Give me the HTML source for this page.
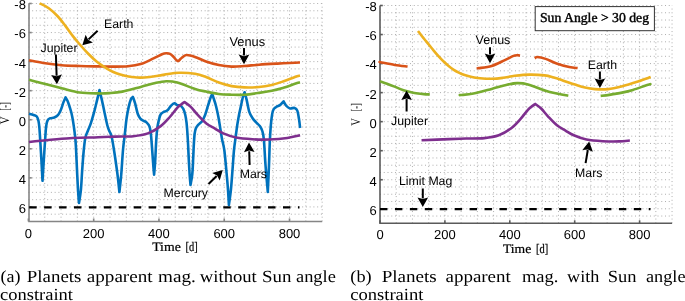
<!DOCTYPE html><html><head><meta charset="utf-8"><style>html,body{margin:0;padding:0;background:#fff;}svg{display:block;will-change:transform;text-rendering:geometricPrecision;}</style></head><body>
<svg width="685" height="301" viewBox="0 0 685 301">
<rect width="685" height="301" fill="#fff"/>
<g stroke="#a0a0a0" stroke-width="0.85" stroke-dasharray="1 2.75" fill="none">
<line x1="44.72" y1="221.45" x2="44.72" y2="3.50"/>
<line x1="61.04" y1="221.45" x2="61.04" y2="3.50"/>
<line x1="77.36" y1="221.45" x2="77.36" y2="3.50"/>
<line x1="93.68" y1="221.45" x2="93.68" y2="3.50"/>
<line x1="110.00" y1="221.45" x2="110.00" y2="3.50"/>
<line x1="126.32" y1="221.45" x2="126.32" y2="3.50"/>
<line x1="142.64" y1="221.45" x2="142.64" y2="3.50"/>
<line x1="158.96" y1="221.45" x2="158.96" y2="3.50"/>
<line x1="175.28" y1="221.45" x2="175.28" y2="3.50"/>
<line x1="191.60" y1="221.45" x2="191.60" y2="3.50"/>
<line x1="207.92" y1="221.45" x2="207.92" y2="3.50"/>
<line x1="224.24" y1="221.45" x2="224.24" y2="3.50"/>
<line x1="240.56" y1="221.45" x2="240.56" y2="3.50"/>
<line x1="256.88" y1="221.45" x2="256.88" y2="3.50"/>
<line x1="273.20" y1="221.45" x2="273.20" y2="3.50"/>
<line x1="289.52" y1="221.45" x2="289.52" y2="3.50"/>
<line x1="305.84" y1="221.45" x2="305.84" y2="3.50"/>
<line x1="322.16" y1="221.45" x2="322.16" y2="3.50"/>
<line x1="28.40" y1="3.50" x2="322.16" y2="3.50"/>
<line x1="28.40" y1="10.77" x2="322.16" y2="10.77"/>
<line x1="28.40" y1="18.03" x2="322.16" y2="18.03"/>
<line x1="28.40" y1="25.29" x2="322.16" y2="25.29"/>
<line x1="28.40" y1="32.56" x2="322.16" y2="32.56"/>
<line x1="28.40" y1="39.82" x2="322.16" y2="39.82"/>
<line x1="28.40" y1="47.09" x2="322.16" y2="47.09"/>
<line x1="28.40" y1="54.35" x2="322.16" y2="54.35"/>
<line x1="28.40" y1="61.62" x2="322.16" y2="61.62"/>
<line x1="28.40" y1="68.88" x2="322.16" y2="68.88"/>
<line x1="28.40" y1="76.15" x2="322.16" y2="76.15"/>
<line x1="28.40" y1="83.41" x2="322.16" y2="83.41"/>
<line x1="28.40" y1="90.68" x2="322.16" y2="90.68"/>
<line x1="28.40" y1="97.94" x2="322.16" y2="97.94"/>
<line x1="28.40" y1="105.21" x2="322.16" y2="105.21"/>
<line x1="28.40" y1="112.47" x2="322.16" y2="112.47"/>
<line x1="28.40" y1="119.74" x2="322.16" y2="119.74"/>
<line x1="28.40" y1="127.00" x2="322.16" y2="127.00"/>
<line x1="28.40" y1="134.27" x2="322.16" y2="134.27"/>
<line x1="28.40" y1="141.53" x2="322.16" y2="141.53"/>
<line x1="28.40" y1="148.80" x2="322.16" y2="148.80"/>
<line x1="28.40" y1="156.06" x2="322.16" y2="156.06"/>
<line x1="28.40" y1="163.33" x2="322.16" y2="163.33"/>
<line x1="28.40" y1="170.59" x2="322.16" y2="170.59"/>
<line x1="28.40" y1="177.86" x2="322.16" y2="177.86"/>
<line x1="28.40" y1="185.12" x2="322.16" y2="185.12"/>
<line x1="28.40" y1="192.39" x2="322.16" y2="192.39"/>
<line x1="28.40" y1="199.66" x2="322.16" y2="199.66"/>
<line x1="28.40" y1="206.92" x2="322.16" y2="206.92"/>
<line x1="28.40" y1="214.19" x2="322.16" y2="214.19"/>
</g>
<g stroke="#858585" stroke-width="1.6" fill="none">
<path d="M29.00 3.50 L29.00 221.45 L322.16 221.45"/>
<line x1="29.00" y1="3.50" x2="31.80" y2="3.50"/>
<line x1="29.00" y1="32.56" x2="31.80" y2="32.56"/>
<line x1="29.00" y1="61.62" x2="31.80" y2="61.62"/>
<line x1="29.00" y1="90.68" x2="31.80" y2="90.68"/>
<line x1="29.00" y1="119.74" x2="31.80" y2="119.74"/>
<line x1="29.00" y1="148.80" x2="31.80" y2="148.80"/>
<line x1="29.00" y1="177.86" x2="31.80" y2="177.86"/>
<line x1="29.00" y1="206.92" x2="31.80" y2="206.92"/>
<line x1="28.40" y1="221.45" x2="28.40" y2="218.45"/>
<line x1="93.68" y1="221.45" x2="93.68" y2="218.45"/>
<line x1="158.96" y1="221.45" x2="158.96" y2="218.45"/>
<line x1="224.24" y1="221.45" x2="224.24" y2="218.45"/>
<line x1="289.52" y1="221.45" x2="289.52" y2="218.45"/>
</g>
<g font-family="'Liberation Sans', sans-serif" font-size="13" fill="#000">
<text x="25.90" y="9.40" text-anchor="end">-8</text>
<text x="25.90" y="38.46" text-anchor="end">-6</text>
<text x="25.90" y="67.52" text-anchor="end">-4</text>
<text x="25.90" y="96.58" text-anchor="end">-2</text>
<text x="25.90" y="125.64" text-anchor="end">0</text>
<text x="25.90" y="154.70" text-anchor="end">2</text>
<text x="25.90" y="183.76" text-anchor="end">4</text>
<text x="25.90" y="212.82" text-anchor="end">6</text>
<text x="28.40" y="237.60" text-anchor="middle">0</text>
<text x="93.68" y="237.60" text-anchor="middle">200</text>
<text x="158.96" y="237.60" text-anchor="middle">400</text>
<text x="224.24" y="237.60" text-anchor="middle">600</text>
<text x="289.52" y="237.60" text-anchor="middle">800</text>
</g>
<line x1="29.20" y1="207.32" x2="299.46" y2="207.32" stroke="#000" stroke-width="2.2" stroke-dasharray="7.46 7.47"/>
<path d="M29.00 113.80 C29.75 114.00 32.20 114.55 33.50 115.00 C34.80 115.45 35.97 115.50 36.80 116.50 C37.63 117.50 38.07 119.08 38.50 121.00 C38.93 122.92 39.12 124.83 39.40 128.00 C39.68 131.17 39.87 134.67 40.20 140.00 C40.53 145.33 41.02 153.20 41.40 160.00 C41.78 166.80 42.32 177.33 42.50 180.80 C42.72 177.33 43.37 166.80 43.80 160.00 C44.23 153.20 44.70 145.67 45.10 140.00 C45.50 134.33 45.78 129.28 46.20 126.00 C46.62 122.72 46.93 121.58 47.60 120.30 C48.27 119.02 49.08 118.77 50.20 118.30 C51.32 117.83 53.02 118.02 54.30 117.50 C55.58 116.98 56.85 116.35 57.90 115.20 C58.95 114.05 59.68 112.73 60.60 110.60 C61.52 108.47 62.57 104.60 63.40 102.40 C64.23 100.20 65.23 98.23 65.60 97.40 C65.93 98.00 66.95 99.48 67.60 101.00 C68.25 102.52 68.85 104.45 69.50 106.50 C70.15 108.55 70.90 110.78 71.50 113.30 C72.10 115.82 72.63 118.82 73.10 121.60 C73.57 124.38 73.93 127.23 74.30 130.00 C74.67 132.77 75.02 135.17 75.30 138.20 C75.58 141.23 75.72 142.90 76.00 148.20 C76.28 153.50 76.67 163.03 77.00 170.00 C77.33 176.97 77.67 184.50 78.00 190.00 C78.33 195.50 78.83 200.83 79.00 203.00 C79.32 200.83 80.37 195.50 80.90 190.00 C81.43 184.50 81.75 176.33 82.20 170.00 C82.65 163.67 83.08 157.33 83.60 152.00 C84.12 146.67 84.57 141.58 85.30 138.00 C86.03 134.42 87.08 132.93 88.00 130.50 C88.92 128.07 89.72 126.72 90.80 123.40 C91.88 120.08 93.43 114.57 94.50 110.60 C95.57 106.63 96.37 103.03 97.20 99.60 C98.03 96.17 99.12 91.60 99.50 90.00 C99.88 91.60 100.97 95.87 101.80 99.60 C102.63 103.33 103.58 108.13 104.50 112.40 C105.42 116.67 106.50 122.10 107.30 125.20 C108.10 128.30 108.60 129.20 109.30 131.00 C110.00 132.80 110.80 133.33 111.50 136.00 C112.20 138.67 112.83 143.00 113.50 147.00 C114.17 151.00 114.78 155.00 115.50 160.00 C116.22 165.00 117.15 171.67 117.80 177.00 C118.45 182.33 119.13 189.50 119.40 192.00 C119.70 189.17 120.60 182.00 121.20 175.00 C121.80 168.00 122.37 157.08 123.00 150.00 C123.63 142.92 124.42 137.67 125.00 132.50 C125.58 127.33 125.88 123.27 126.50 119.00 C127.12 114.73 127.93 110.28 128.70 106.90 C129.47 103.52 130.40 100.37 131.10 98.70 C131.80 97.03 132.60 97.20 132.90 96.90 C133.27 97.97 134.27 100.40 135.10 103.30 C135.93 106.20 136.98 111.72 137.90 114.30 C138.82 116.88 139.67 117.72 140.60 118.80 C141.53 119.88 142.52 120.20 143.50 120.80 C144.48 121.40 145.50 121.45 146.50 122.40 C147.50 123.35 148.75 124.40 149.50 126.50 C150.25 128.60 150.53 130.80 151.00 135.00 C151.47 139.20 151.90 146.40 152.30 151.70 C152.70 157.00 153.10 162.98 153.40 166.80 C153.70 170.62 153.98 173.30 154.10 174.60 C154.27 172.58 154.75 168.10 155.10 162.50 C155.45 156.90 155.83 146.75 156.20 141.00 C156.57 135.25 156.83 131.58 157.30 128.00 C157.77 124.42 158.45 121.75 159.00 119.50 C159.55 117.25 159.87 115.73 160.60 114.50 C161.33 113.27 162.32 112.75 163.40 112.10 C164.48 111.45 165.87 111.62 167.10 110.60 C168.33 109.58 169.58 107.22 170.80 106.00 C172.02 104.78 173.33 103.45 174.40 103.30 C175.47 103.15 176.23 104.73 177.20 105.10 C178.17 105.47 179.18 104.88 180.20 105.50 C181.22 106.12 182.45 107.22 183.30 108.80 C184.15 110.38 184.77 112.73 185.30 115.00 C185.83 117.27 186.15 119.40 186.50 122.40 C186.85 125.40 187.13 129.23 187.40 133.00 C187.67 136.77 187.87 140.50 188.10 145.00 C188.33 149.50 188.55 155.17 188.80 160.00 C189.05 164.83 189.32 169.83 189.60 174.00 C189.88 178.17 190.35 183.17 190.50 185.00 C190.80 183.17 191.85 178.50 192.30 174.00 C192.75 169.50 192.95 162.83 193.20 158.00 C193.45 153.17 193.57 149.00 193.80 145.00 C194.03 141.00 194.27 136.77 194.60 134.00 C194.93 131.23 195.17 129.95 195.80 128.40 C196.43 126.85 197.33 125.95 198.40 124.70 C199.47 123.45 201.08 122.52 202.20 120.90 C203.32 119.28 204.25 117.15 205.10 115.00 C205.95 112.85 206.60 110.25 207.30 108.00 C208.00 105.75 208.68 103.42 209.30 101.50 C209.92 99.58 210.50 97.73 211.00 96.50 C211.50 95.27 212.08 94.50 212.30 94.10 C212.62 95.08 213.58 98.02 214.20 100.00 C214.82 101.98 215.30 103.18 216.00 106.00 C216.70 108.82 217.70 113.25 218.40 116.90 C219.10 120.55 219.60 124.23 220.20 127.90 C220.80 131.57 221.32 135.22 222.00 138.90 C222.68 142.58 223.58 144.82 224.30 150.00 C225.02 155.18 225.68 163.37 226.30 170.00 C226.92 176.63 227.57 183.97 228.00 189.80 C228.43 195.63 228.75 202.47 228.90 205.00 C229.23 202.47 230.30 195.63 230.90 189.80 C231.50 183.97 231.98 176.63 232.50 170.00 C233.02 163.37 233.45 155.67 234.00 150.00 C234.55 144.33 235.25 140.20 235.80 136.00 C236.35 131.80 236.77 128.30 237.30 124.80 C237.83 121.30 238.45 117.87 239.00 115.00 C239.55 112.13 239.95 110.60 240.60 107.60 C241.25 104.60 242.23 99.55 242.90 97.00 C243.57 94.45 244.32 93.08 244.60 92.30 C244.93 93.52 245.83 96.38 246.60 99.60 C247.37 102.82 248.20 108.50 249.20 111.60 C250.20 114.70 251.37 116.33 252.60 118.20 C253.83 120.07 255.40 121.48 256.60 122.80 C257.80 124.12 258.85 124.73 259.80 126.10 C260.75 127.47 261.62 128.72 262.30 131.00 C262.98 133.28 263.37 134.13 263.90 139.80 C264.43 145.47 264.85 156.32 265.50 165.00 C266.15 173.68 267.42 187.42 267.80 191.90 C268.00 187.42 268.65 173.68 269.00 165.00 C269.35 156.32 269.53 147.03 269.90 139.80 C270.27 132.57 270.68 126.47 271.20 121.60 C271.72 116.73 272.15 113.05 273.00 110.60 C273.85 108.15 275.13 107.82 276.30 106.90 C277.47 105.98 278.78 106.03 280.00 105.10 C281.22 104.17 283.00 101.93 283.60 101.30 C284.07 102.08 285.33 104.82 286.40 106.00 C287.47 107.18 288.63 108.08 290.00 108.40 C291.37 108.72 293.38 107.53 294.60 107.90 C295.82 108.27 296.55 108.63 297.30 110.60 C298.05 112.57 298.63 116.80 299.10 119.70 C299.57 122.60 299.93 126.62 300.10 128.00" fill="none" stroke="#0072BD" stroke-width="2.60" stroke-linejoin="round" stroke-linecap="butt"/>
<path d="M29.00 60.30 C31.38 60.75 37.87 62.18 43.30 63.00 C48.73 63.82 55.52 64.70 61.60 65.20 C67.68 65.70 73.72 65.80 79.80 66.00 C85.88 66.20 92.52 66.30 98.10 66.40 C103.68 66.50 108.33 66.63 113.30 66.60 C118.27 66.57 123.33 66.63 127.90 66.20 C132.47 65.77 136.43 65.30 140.70 64.00 C144.97 62.70 149.95 60.03 153.50 58.40 C157.05 56.77 159.87 55.07 162.00 54.20 C164.13 53.33 164.97 53.27 166.30 53.20 C167.63 53.13 168.78 53.18 170.00 53.80 C171.22 54.42 172.52 55.82 173.60 56.90 C174.68 57.98 175.73 59.60 176.50 60.30 C177.27 61.00 177.62 61.23 178.20 61.10 C178.78 60.97 179.40 60.05 180.00 59.50 C180.60 58.95 180.73 58.55 181.80 57.80 C182.87 57.05 184.20 55.15 186.40 55.00 C188.60 54.85 191.73 55.82 195.00 56.90 C198.27 57.98 202.03 60.13 206.00 61.50 C209.97 62.87 214.53 64.25 218.80 65.10 C223.07 65.95 227.33 66.45 231.60 66.60 C235.87 66.75 239.83 66.32 244.40 66.00 C248.97 65.68 253.52 65.10 259.00 64.70 C264.48 64.30 271.30 63.93 277.30 63.60 C283.30 63.27 291.22 62.88 295.00 62.70 C298.78 62.52 299.17 62.53 300.00 62.50" fill="none" stroke="#D95319" stroke-width="2.60" stroke-linejoin="round" stroke-linecap="butt"/>
<path d="M39.60 3.30 C41.13 4.12 45.75 6.00 48.80 8.20 C51.85 10.40 55.17 13.60 57.90 16.50 C60.63 19.40 62.77 22.42 65.20 25.60 C67.63 28.78 70.07 32.45 72.50 35.60 C74.93 38.75 77.13 41.43 79.80 44.50 C82.47 47.57 85.60 51.08 88.50 54.00 C91.40 56.92 94.07 59.53 97.20 62.00 C100.33 64.47 104.10 66.92 107.30 68.80 C110.50 70.68 113.45 72.15 116.40 73.30 C119.35 74.45 121.57 75.00 125.00 75.70 C128.43 76.40 132.87 77.28 137.00 77.50 C141.13 77.72 145.22 77.48 149.80 77.00 C154.38 76.52 159.62 75.30 164.50 74.60 C169.38 73.90 174.02 72.93 179.10 72.80 C184.18 72.67 190.52 73.10 195.00 73.80 C199.48 74.50 202.03 75.55 206.00 77.00 C209.97 78.45 214.53 80.98 218.80 82.50 C223.07 84.02 227.33 85.28 231.60 86.10 C235.87 86.92 239.83 87.25 244.40 87.40 C248.97 87.55 254.43 87.42 259.00 87.00 C263.57 86.58 267.83 85.80 271.80 84.90 C275.77 84.00 278.93 82.92 282.80 81.60 C286.67 80.28 292.13 78.02 295.00 77.00 C297.87 75.98 299.17 75.75 300.00 75.50" fill="none" stroke="#EDB120" stroke-width="2.60" stroke-linejoin="round" stroke-linecap="butt"/>
<path d="M29.00 142.00 C34.43 141.45 50.08 139.50 61.60 138.70 C73.12 137.90 89.20 137.55 98.10 137.20 C107.00 136.85 109.13 136.77 115.00 136.60 C120.87 136.43 127.82 136.73 133.30 136.20 C138.78 135.67 143.33 135.08 147.90 133.40 C152.47 131.72 157.05 128.83 160.70 126.10 C164.35 123.37 167.05 120.03 169.80 117.00 C172.55 113.97 175.25 110.03 177.20 107.90 C179.15 105.77 180.28 105.18 181.50 104.20 C182.72 103.22 184.00 102.37 184.50 102.00 C185.50 102.77 188.33 104.50 190.50 106.60 C192.67 108.70 194.85 111.80 197.50 114.60 C200.15 117.40 203.48 121.07 206.40 123.40 C209.32 125.73 212.18 126.93 215.00 128.60 C217.82 130.27 219.78 131.90 223.30 133.40 C226.82 134.90 231.23 136.62 236.10 137.60 C240.97 138.58 247.02 138.98 252.50 139.30 C257.98 139.62 263.20 139.72 269.00 139.50 C274.80 139.28 282.12 138.70 287.30 138.00 C292.48 137.30 297.97 135.75 300.10 135.30" fill="none" stroke="#7E2F8E" stroke-width="2.60" stroke-linejoin="round" stroke-linecap="butt"/>
<path d="M29.00 79.70 C31.38 80.35 37.87 82.18 43.30 83.60 C48.73 85.02 55.52 86.72 61.60 88.20 C67.68 89.68 73.72 91.63 79.80 92.50 C85.88 93.37 93.13 93.30 98.10 93.40 C103.07 93.50 105.55 93.40 109.60 93.10 C113.65 92.80 117.22 92.62 122.40 91.60 C127.58 90.58 135.22 88.43 140.70 87.00 C146.18 85.57 151.03 83.97 155.30 83.00 C159.57 82.03 162.63 81.28 166.30 81.20 C169.97 81.12 172.52 81.22 177.30 82.50 C182.08 83.78 190.22 87.38 195.00 88.90 C199.78 90.42 202.03 90.75 206.00 91.60 C209.97 92.45 214.53 93.48 218.80 94.00 C223.07 94.52 227.33 94.58 231.60 94.70 C235.87 94.82 239.83 95.00 244.40 94.70 C248.97 94.40 254.43 93.57 259.00 92.90 C263.57 92.23 267.83 91.52 271.80 90.70 C275.77 89.88 278.93 89.15 282.80 88.00 C286.67 86.85 292.13 84.75 295.00 83.80 C297.87 82.85 299.17 82.55 300.00 82.30" fill="none" stroke="#77AC30" stroke-width="2.60" stroke-linejoin="round" stroke-linecap="butt"/>
<g stroke="#a0a0a0" stroke-width="0.85" stroke-dasharray="1 2.75" fill="none">
<line x1="396.23" y1="223.30" x2="396.23" y2="5.50"/>
<line x1="412.45" y1="223.30" x2="412.45" y2="5.50"/>
<line x1="428.68" y1="223.30" x2="428.68" y2="5.50"/>
<line x1="444.90" y1="223.30" x2="444.90" y2="5.50"/>
<line x1="461.12" y1="223.30" x2="461.12" y2="5.50"/>
<line x1="477.35" y1="223.30" x2="477.35" y2="5.50"/>
<line x1="493.57" y1="223.30" x2="493.57" y2="5.50"/>
<line x1="509.80" y1="223.30" x2="509.80" y2="5.50"/>
<line x1="526.02" y1="223.30" x2="526.02" y2="5.50"/>
<line x1="542.25" y1="223.30" x2="542.25" y2="5.50"/>
<line x1="558.48" y1="223.30" x2="558.48" y2="5.50"/>
<line x1="574.70" y1="223.30" x2="574.70" y2="5.50"/>
<line x1="590.92" y1="223.30" x2="590.92" y2="5.50"/>
<line x1="607.15" y1="223.30" x2="607.15" y2="5.50"/>
<line x1="623.38" y1="223.30" x2="623.38" y2="5.50"/>
<line x1="639.60" y1="223.30" x2="639.60" y2="5.50"/>
<line x1="655.83" y1="223.30" x2="655.83" y2="5.50"/>
<line x1="672.05" y1="223.30" x2="672.05" y2="5.50"/>
<line x1="380.00" y1="5.50" x2="672.05" y2="5.50"/>
<line x1="380.00" y1="12.76" x2="672.05" y2="12.76"/>
<line x1="380.00" y1="20.02" x2="672.05" y2="20.02"/>
<line x1="380.00" y1="27.28" x2="672.05" y2="27.28"/>
<line x1="380.00" y1="34.54" x2="672.05" y2="34.54"/>
<line x1="380.00" y1="41.80" x2="672.05" y2="41.80"/>
<line x1="380.00" y1="49.06" x2="672.05" y2="49.06"/>
<line x1="380.00" y1="56.32" x2="672.05" y2="56.32"/>
<line x1="380.00" y1="63.58" x2="672.05" y2="63.58"/>
<line x1="380.00" y1="70.84" x2="672.05" y2="70.84"/>
<line x1="380.00" y1="78.10" x2="672.05" y2="78.10"/>
<line x1="380.00" y1="85.36" x2="672.05" y2="85.36"/>
<line x1="380.00" y1="92.62" x2="672.05" y2="92.62"/>
<line x1="380.00" y1="99.88" x2="672.05" y2="99.88"/>
<line x1="380.00" y1="107.14" x2="672.05" y2="107.14"/>
<line x1="380.00" y1="114.40" x2="672.05" y2="114.40"/>
<line x1="380.00" y1="121.66" x2="672.05" y2="121.66"/>
<line x1="380.00" y1="128.92" x2="672.05" y2="128.92"/>
<line x1="380.00" y1="136.18" x2="672.05" y2="136.18"/>
<line x1="380.00" y1="143.44" x2="672.05" y2="143.44"/>
<line x1="380.00" y1="150.70" x2="672.05" y2="150.70"/>
<line x1="380.00" y1="157.96" x2="672.05" y2="157.96"/>
<line x1="380.00" y1="165.22" x2="672.05" y2="165.22"/>
<line x1="380.00" y1="172.48" x2="672.05" y2="172.48"/>
<line x1="380.00" y1="179.74" x2="672.05" y2="179.74"/>
<line x1="380.00" y1="187.00" x2="672.05" y2="187.00"/>
<line x1="380.00" y1="194.26" x2="672.05" y2="194.26"/>
<line x1="380.00" y1="201.52" x2="672.05" y2="201.52"/>
<line x1="380.00" y1="208.78" x2="672.05" y2="208.78"/>
<line x1="380.00" y1="216.04" x2="672.05" y2="216.04"/>
</g>
<g stroke="#5a5a5a" stroke-width="1.6" fill="none">
<path d="M380.00 5.50 L380.00 223.30 L672.05 223.30"/>
<line x1="380.00" y1="5.50" x2="382.80" y2="5.50"/>
<line x1="380.00" y1="34.54" x2="382.80" y2="34.54"/>
<line x1="380.00" y1="63.58" x2="382.80" y2="63.58"/>
<line x1="380.00" y1="92.62" x2="382.80" y2="92.62"/>
<line x1="380.00" y1="121.66" x2="382.80" y2="121.66"/>
<line x1="380.00" y1="150.70" x2="382.80" y2="150.70"/>
<line x1="380.00" y1="179.74" x2="382.80" y2="179.74"/>
<line x1="380.00" y1="208.78" x2="382.80" y2="208.78"/>
<line x1="380.00" y1="223.30" x2="380.00" y2="220.30"/>
<line x1="444.90" y1="223.30" x2="444.90" y2="220.30"/>
<line x1="509.80" y1="223.30" x2="509.80" y2="220.30"/>
<line x1="574.70" y1="223.30" x2="574.70" y2="220.30"/>
<line x1="639.60" y1="223.30" x2="639.60" y2="220.30"/>
</g>
<g font-family="'Liberation Sans', sans-serif" font-size="13" fill="#000">
<text x="376.70" y="11.40" text-anchor="end">-8</text>
<text x="376.70" y="40.44" text-anchor="end">-6</text>
<text x="376.70" y="69.48" text-anchor="end">-4</text>
<text x="376.70" y="98.52" text-anchor="end">-2</text>
<text x="376.70" y="127.56" text-anchor="end">0</text>
<text x="376.70" y="156.60" text-anchor="end">2</text>
<text x="376.70" y="185.64" text-anchor="end">4</text>
<text x="376.70" y="214.68" text-anchor="end">6</text>
<text x="380.00" y="239.40" text-anchor="middle">0</text>
<text x="444.90" y="239.40" text-anchor="middle">200</text>
<text x="509.80" y="239.40" text-anchor="middle">400</text>
<text x="574.70" y="239.40" text-anchor="middle">600</text>
<text x="639.60" y="239.40" text-anchor="middle">800</text>
</g>
<line x1="380.00" y1="209.18" x2="650.47" y2="209.18" stroke="#000" stroke-width="2.2" stroke-dasharray="7.46 7.47"/>
<path d="M380.60 62.26 C380.60 62.26 378.23 61.81 380.60 62.26 C382.97 62.71 390.32 64.25 394.81 64.96 C399.31 65.67 405.45 66.24 407.58 66.50" fill="none" stroke="#D95319" stroke-width="2.60" stroke-linejoin="round" stroke-linecap="butt"/>
<path d="M476.60 68.22 C476.99 68.21 476.41 68.53 478.92 68.16 C481.43 67.78 487.40 67.26 491.65 65.96 C495.89 64.66 500.84 61.99 504.37 60.36 C507.90 58.73 510.70 57.03 512.82 56.17 C514.94 55.30 515.90 55.25 517.10 55.17 C518.30 55.08 519.53 55.56 520.02 55.64" fill="none" stroke="#D95319" stroke-width="2.60" stroke-linejoin="round" stroke-linecap="butt"/>
<path d="M534.79 58.37 C535.17 58.13 535.27 56.88 537.08 56.96 C538.89 57.05 542.38 57.78 545.63 58.86 C548.88 59.95 552.62 62.09 556.57 63.46 C560.51 64.83 565.78 66.29 569.29 67.06 C572.80 67.82 576.23 67.88 577.62 68.04" fill="none" stroke="#D95319" stroke-width="2.60" stroke-linejoin="round" stroke-linecap="butt"/>
<path d="M418.00 31.00 C418.67 31.87 420.67 34.52 422.00 36.20 C423.33 37.88 424.67 39.47 426.00 41.10 C427.33 42.73 428.68 44.38 430.00 46.00 C431.32 47.62 432.42 49.03 433.90 50.80 C435.38 52.57 437.23 54.77 438.90 56.60 C440.57 58.43 442.23 60.20 443.90 61.80 C445.57 63.40 447.25 64.87 448.90 66.20 C450.55 67.53 452.15 68.73 453.80 69.80 C455.45 70.87 457.13 71.77 458.80 72.60 C460.47 73.43 461.63 74.05 463.80 74.80 C465.97 75.55 469.10 76.52 471.80 77.10 C474.50 77.68 476.57 78.02 480.00 78.30 C483.43 78.58 488.57 78.88 492.40 78.80 C496.23 78.72 499.27 78.30 503.00 77.80 C506.73 77.30 510.33 76.33 514.80 75.80 C519.27 75.27 524.82 74.67 529.80 74.60 C534.78 74.53 540.72 74.92 544.70 75.40 C548.68 75.88 550.70 76.67 553.70 77.50 C556.70 78.33 559.15 79.22 562.70 80.40 C566.25 81.58 571.28 83.40 575.00 84.60 C578.72 85.80 581.68 86.85 585.00 87.60 C588.32 88.35 591.03 88.85 594.90 89.10 C598.77 89.35 603.78 89.55 608.20 89.10 C612.62 88.65 616.43 87.67 621.40 86.40 C626.37 85.13 633.12 83.05 638.00 81.50 C642.88 79.95 648.58 77.83 650.70 77.10" fill="none" stroke="#EDB120" stroke-width="2.60" stroke-linejoin="round" stroke-linecap="butt"/>
<path d="M421.54 140.25 C426.16 140.06 441.87 139.40 449.29 139.11 C456.72 138.82 460.26 138.67 466.10 138.51 C471.93 138.34 478.84 138.64 484.29 138.11 C489.74 137.58 494.26 136.99 498.80 135.31 C503.34 133.63 507.90 130.75 511.53 128.02 C515.16 125.28 517.84 121.95 520.58 118.92 C523.31 115.89 526.00 111.96 527.93 109.83 C529.87 107.70 531.00 107.11 532.21 106.13 C533.42 105.15 534.69 104.30 535.19 103.93 C536.19 104.70 539.00 106.43 541.16 108.53 C543.31 110.63 545.48 113.73 548.12 116.52 C550.75 119.32 554.06 122.99 556.96 125.32 C559.86 127.65 562.71 128.85 565.51 130.51 C568.31 132.18 570.27 133.81 573.77 135.31 C577.26 136.81 581.65 138.53 586.49 139.51 C591.33 140.49 597.34 140.89 602.80 141.21 C608.25 141.52 614.69 141.52 619.20 141.41 C623.71 141.29 628.09 140.67 629.87 140.53" fill="none" stroke="#7E2F8E" stroke-width="2.60" stroke-linejoin="round" stroke-linecap="butt"/>
<path d="M380.00 81.30 C381.17 81.70 384.57 82.82 387.00 83.70 C389.43 84.58 392.35 85.70 394.60 86.60 C396.85 87.50 398.57 88.35 400.50 89.10 C402.43 89.85 404.28 90.52 406.20 91.10 C408.12 91.68 410.05 92.20 412.00 92.60 C413.95 93.00 415.90 93.25 417.90 93.50 C419.90 93.75 422.02 93.93 424.00 94.10 C425.98 94.27 428.83 94.43 429.80 94.50" fill="none" stroke="#77AC30" stroke-width="2.60" stroke-linejoin="round" stroke-linecap="butt"/>
<path d="M460.70 95.04 C460.71 95.04 458.60 95.29 460.73 95.04 C462.85 94.79 468.30 94.56 473.45 93.54 C478.61 92.52 486.19 90.37 491.65 88.94 C497.10 87.51 501.92 85.91 506.16 84.95 C510.40 83.98 513.45 83.23 517.10 83.15 C520.74 83.06 523.28 83.16 528.03 84.45 C532.79 85.73 540.87 89.33 545.63 90.84 C550.39 92.36 552.79 92.72 556.57 93.54 C560.35 94.36 566.35 95.38 568.31 95.75" fill="none" stroke="#77AC30" stroke-width="2.60" stroke-linejoin="round" stroke-linecap="butt"/>
<path d="M600.66 95.90 C602.09 95.73 605.70 95.38 609.26 94.84 C612.81 94.29 618.04 93.46 621.98 92.64 C625.93 91.82 629.07 91.09 632.92 89.94 C636.76 88.79 642.20 86.69 645.05 85.74 C647.90 84.80 649.19 84.50 650.02 84.25 C650.85 84.00 650.02 84.25 650.02 84.25" fill="none" stroke="#77AC30" stroke-width="2.60" stroke-linejoin="round" stroke-linecap="butt"/>
<line x1="97.60" y1="30.80" x2="88.54" y2="39.38" stroke="#000" stroke-width="2.00"/><path d="M82.30 45.30 L85.62 34.85 L88.11 39.80 L92.91 42.54 Z" fill="#000"/>
<line x1="55.90" y1="54.50" x2="56.61" y2="75.70" stroke="#000" stroke-width="2.00"/><path d="M56.90 84.30 L51.28 74.88 L56.63 76.30 L61.88 74.53 Z" fill="#000"/>
<line x1="244.00" y1="48.00" x2="244.00" y2="55.60" stroke="#000" stroke-width="2.00"/><path d="M244.00 64.20 L238.70 54.60 L244.00 56.20 L249.30 54.60 Z" fill="#000"/>
<line x1="249.60" y1="165.00" x2="249.23" y2="151.20" stroke="#000" stroke-width="2.00"/><path d="M249.00 142.60 L254.56 152.05 L249.21 150.60 L243.96 152.34 Z" fill="#000"/>
<line x1="208.50" y1="184.00" x2="216.65" y2="176.02" stroke="#000" stroke-width="2.00"/><path d="M222.80 170.00 L219.65 180.50 L217.08 175.60 L212.23 172.93 Z" fill="#000"/>
<text x="104.00" y="27.80" font-family="'Liberation Sans', sans-serif" font-size="12.3">Earth</text>
<text x="40.60" y="51.60" font-family="'Liberation Sans', sans-serif" font-size="12.3">Jupiter</text>
<text x="229.50" y="45.90" font-family="'Liberation Sans', sans-serif" font-size="12.8">Venus</text>
<text x="163.60" y="196.60" font-family="'Liberation Sans', sans-serif" font-size="12.3">Mercury</text>
<text x="239.70" y="178.30" font-family="'Liberation Sans', sans-serif" font-size="12.3">Mars</text>
<line x1="406.60" y1="111.50" x2="406.60" y2="99.10" stroke="#000" stroke-width="2.00"/><path d="M406.60 90.50 L411.90 100.10 L406.60 98.50 L401.30 100.10 Z" fill="#000"/>
<line x1="490.00" y1="47.20" x2="490.00" y2="54.60" stroke="#000" stroke-width="2.00"/><path d="M490.00 63.20 L484.70 53.60 L490.00 55.20 L495.30 53.60 Z" fill="#000"/>
<line x1="599.90" y1="71.50" x2="599.90" y2="79.50" stroke="#000" stroke-width="2.00"/><path d="M599.90 88.10 L594.60 78.50 L599.90 80.10 L605.20 78.50 Z" fill="#000"/>
<line x1="585.60" y1="163.10" x2="587.79" y2="149.98" stroke="#000" stroke-width="2.00"/><path d="M589.20 141.50 L592.85 151.84 L587.88 149.39 L582.39 150.10 Z" fill="#000"/>
<line x1="422.80" y1="188.50" x2="422.80" y2="198.40" stroke="#000" stroke-width="2.00"/><path d="M422.80 207.00 L417.50 197.40 L422.80 199.00 L428.10 197.40 Z" fill="#000"/>
<text x="475.60" y="44.20" font-family="'Liberation Sans', sans-serif" font-size="12.5">Venus</text>
<text x="587.70" y="69.20" font-family="'Liberation Sans', sans-serif" font-size="12.3">Earth</text>
<text x="391.10" y="124.90" font-family="'Liberation Sans', sans-serif" font-size="12.3">Jupiter</text>
<text x="575.10" y="177.00" font-family="'Liberation Sans', sans-serif" font-size="12.3">Mars</text>
<text x="399.00" y="184.70" font-family="'Liberation Sans', sans-serif" font-size="12.3">Limit Mag</text>
<rect x="535.2" y="6.6" width="119.2" height="24.1" fill="#fff" stroke="#333" stroke-width="1"/>
<text stroke="#000" stroke-width="0.4" x="540.00" y="22.00" font-family="'Liberation Serif', serif" font-size="13.5" textLength="109.00" lengthAdjust="spacingAndGlyphs">Sun Angle &gt; 30 deg</text>
<text stroke="#000" stroke-width="0.22" x="152.20" y="250.60" font-family="'Liberation Serif', serif" font-size="13" textLength="28.60" lengthAdjust="spacingAndGlyphs">Time</text><text stroke="#000" stroke-width="0.22" x="185.50" y="250.60" font-family="'Liberation Serif', serif" font-size="13" textLength="12.20" lengthAdjust="spacingAndGlyphs">[d]</text>
<text stroke="#000" stroke-width="0.22" x="502.90" y="252.60" font-family="'Liberation Serif', serif" font-size="13" textLength="28.30" lengthAdjust="spacingAndGlyphs">Time</text><text stroke="#000" stroke-width="0.22" x="536.00" y="252.60" font-family="'Liberation Serif', serif" font-size="13" textLength="12.20" lengthAdjust="spacingAndGlyphs">[d]</text>
<g transform="translate(9.00,124.20) rotate(-90)" font-family="'Liberation Serif', serif" font-size="13.1"><text x="0" y="0" textLength="7.90" lengthAdjust="spacingAndGlyphs">V</text><text x="13.50" y="0" textLength="8.50" lengthAdjust="spacingAndGlyphs">[-]</text></g>
<g transform="translate(359.80,125.70) rotate(-90)" font-family="'Liberation Serif', serif" font-size="13.1"><text x="0" y="0" textLength="7.60" lengthAdjust="spacingAndGlyphs">V</text><text x="14.10" y="0" textLength="8.50" lengthAdjust="spacingAndGlyphs">[-]</text></g>
<text x="0.60" y="281.70" font-family="'Liberation Serif', serif" font-size="17" textLength="20.00" lengthAdjust="spacingAndGlyphs">(a)</text>
<text x="26.80" y="281.70" font-family="'Liberation Serif', serif" font-size="17" textLength="54.60" lengthAdjust="spacingAndGlyphs">Planets</text>
<text x="86.80" y="281.70" font-family="'Liberation Serif', serif" font-size="17" textLength="65.80" lengthAdjust="spacingAndGlyphs">apparent</text>
<text x="158.00" y="281.70" font-family="'Liberation Serif', serif" font-size="17" textLength="37.80" lengthAdjust="spacingAndGlyphs">mag.</text>
<text x="199.80" y="281.70" font-family="'Liberation Serif', serif" font-size="17" textLength="57.00" lengthAdjust="spacingAndGlyphs">without</text>
<text x="262.00" y="281.70" font-family="'Liberation Serif', serif" font-size="17" textLength="29.40" lengthAdjust="spacingAndGlyphs">Sun</text>
<text x="296.00" y="281.70" font-family="'Liberation Serif', serif" font-size="17" textLength="39.80" lengthAdjust="spacingAndGlyphs">angle</text>
<text x="350.30" y="281.70" font-family="'Liberation Serif', serif" font-size="17" textLength="21.30" lengthAdjust="spacingAndGlyphs">(b)</text>
<text x="381.70" y="281.70" font-family="'Liberation Serif', serif" font-size="17" textLength="55.10" lengthAdjust="spacingAndGlyphs">Planets</text>
<text x="445.50" y="281.70" font-family="'Liberation Serif', serif" font-size="17" textLength="65.30" lengthAdjust="spacingAndGlyphs">apparent</text>
<text x="522.00" y="281.70" font-family="'Liberation Serif', serif" font-size="17" textLength="36.40" lengthAdjust="spacingAndGlyphs">mag.</text>
<text x="567.10" y="281.70" font-family="'Liberation Serif', serif" font-size="17" textLength="32.30" lengthAdjust="spacingAndGlyphs">with</text>
<text x="607.80" y="281.70" font-family="'Liberation Serif', serif" font-size="17" textLength="28.80" lengthAdjust="spacingAndGlyphs">Sun</text>
<text x="646.00" y="281.70" font-family="'Liberation Serif', serif" font-size="17" textLength="39.50" lengthAdjust="spacingAndGlyphs">angle</text>
<text x="0.00" y="299.60" font-family="'Liberation Serif', serif" font-size="17" textLength="73.00" lengthAdjust="spacingAndGlyphs">constraint</text>
<text x="350.20" y="299.60" font-family="'Liberation Serif', serif" font-size="17" textLength="73.30" lengthAdjust="spacingAndGlyphs">constraint</text>
</svg></body></html>
